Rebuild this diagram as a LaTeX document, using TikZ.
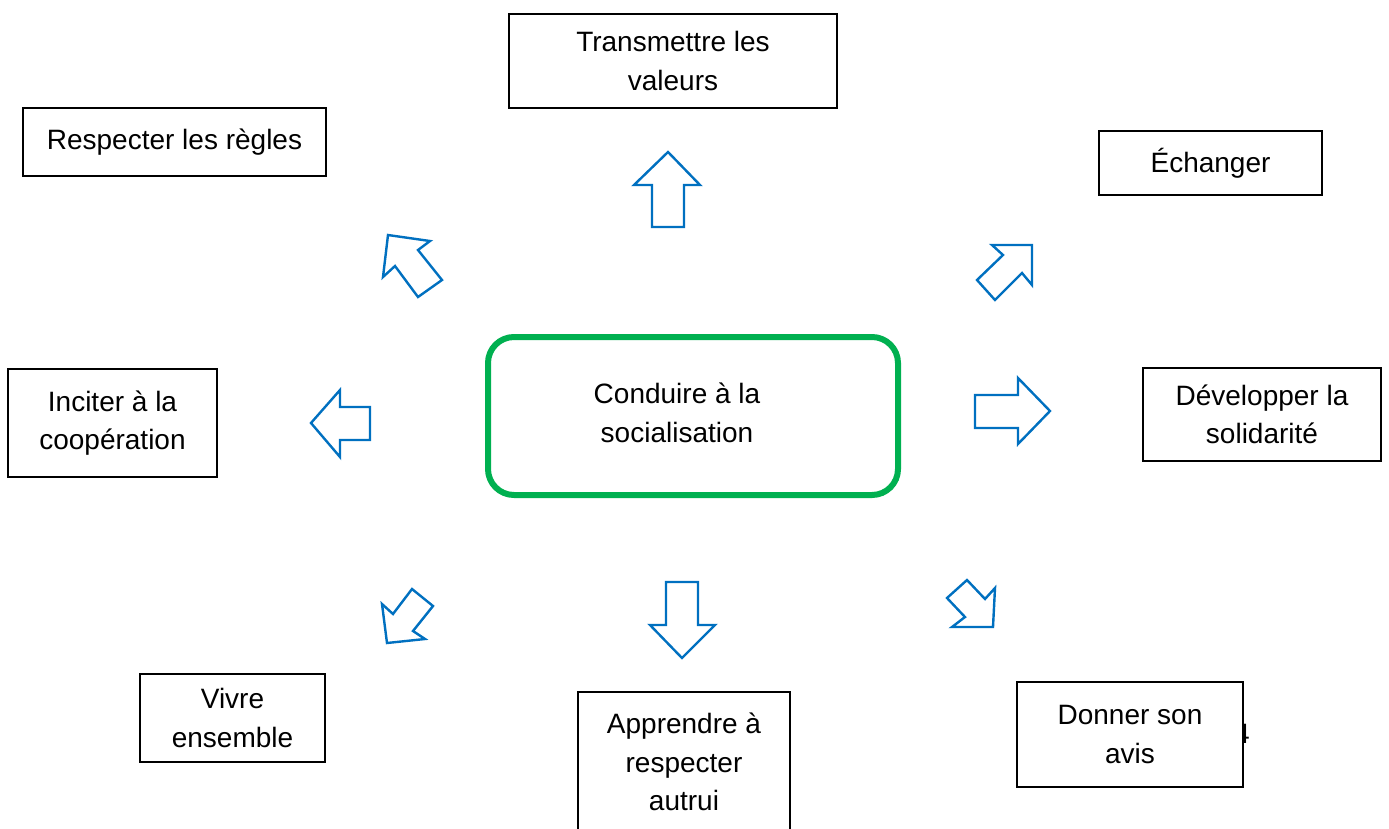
\documentclass[tikz,border=0pt]{standalone}
\usepackage{fontspec}
\setmainfont{Liberation Sans}
\definecolor{arrowblue}{RGB}{0,112,192}
\definecolor{boxgreen}{RGB}{0,176,80}
\tikzset{
  txt/.style={font=\fontsize{28}{38.5}\selectfont, align=center, inner sep=0pt},
  box/.style={txt, draw=black, line width=1.3pt, fill=white},
  centerbox/.style={draw=boxgreen, line width=6pt, rounded corners=26pt, fill=white},
  blockarrow/.style={draw=arrowblue, line width=2.4pt, line join=miter, fill=white}
}
\begin{document}
\begin{tikzpicture}[x=1pt,y=-1pt]
\clip (0,0) rectangle (1389,828);
\fill[white] (0,0) rectangle (1389,828);

% central box
\node[centerbox, minimum width=410pt, minimum height=158pt] (center) at (693,416) {};
\node[txt] (centertxt) at (677,413) {Conduire à la\\socialisation};

% surrounding boxes
\node[box, minimum width=328pt, minimum height=94pt] (trans) at (673,61) {Transmettre les\\valeurs};
\node[box, minimum width=303pt, minimum height=68pt] (regles) at (174.5,142) {Respecter les règles};
\node[box, minimum width=223pt, minimum height=64pt] (echanger) at (1210.5,163) {Échanger};
\node[box, minimum width=209pt, minimum height=108pt] (inciter) at (112.5,423) {Inciter à la\\coopération};
\node[box, minimum width=238pt, minimum height=93pt] (dev) at (1262,414.5) {Développer la\\solidarité};
\node[box, minimum width=185pt, minimum height=88pt] (vivre) at (232.5,718) {Vivre\\ensemble};
\node[box, minimum width=212pt, minimum height=140pt] (apprendre) at (684,762) {Apprendre à\\respecter\\autrui};
\node[txt] (four) at (1242,734) {4};
\node[box, minimum width=226pt, minimum height=105pt] (donner) at (1130,734.5) {Donner son\\avis};

% block arrows
\draw[blockarrow] (668,152) -- (700,185) -- (684,185) -- (684,227) -- (652,227) -- (652,185) -- (634,185) -- cycle;
\draw[blockarrow] (682,658) -- (715,625) -- (698,625) -- (698,582) -- (666,582) -- (666,625) -- (650,625) -- cycle;
\draw[blockarrow] (311,423) -- (340,390) -- (340,407) -- (370,407) -- (370,440) -- (340,440) -- (340,457) -- cycle;
\draw[blockarrow] (1050,411) -- (1018,378) -- (1018,395) -- (975,395) -- (975,428) -- (1018,428) -- (1018,444) -- cycle;
\draw[blockarrow] (388,235) -- (430,241) -- (418,250) -- (442,280) -- (418,297) -- (395,266) -- (383,277) -- cycle;
\draw[blockarrow] (1032,245) -- (1032,285) -- (1022,273) -- (995,300) -- (977,280) -- (1003,255) -- (992,245) -- cycle;
\draw[blockarrow] (387,643) -- (425,639) -- (413,631) -- (433,606) -- (412,589) -- (393,614) -- (382,604) -- cycle;
\draw[blockarrow] (993,627) -- (952,627) -- (965,617) -- (947,598) -- (967,580) -- (985,599) -- (995,588) -- cycle;
\end{tikzpicture}
\end{document}
